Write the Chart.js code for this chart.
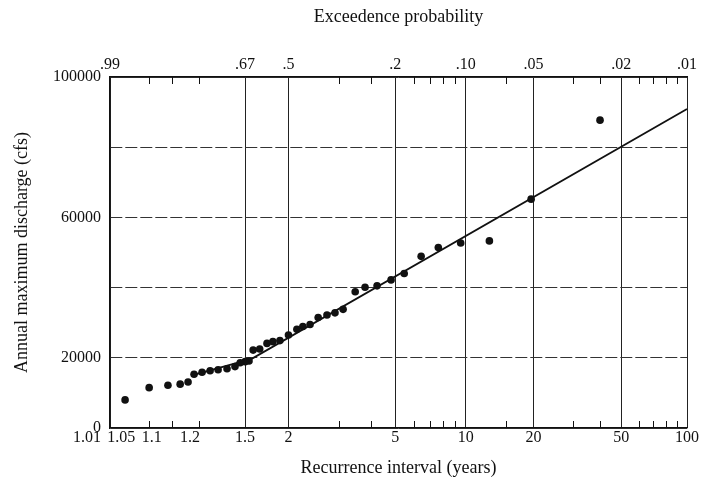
<!DOCTYPE html>
<html>
<head>
<meta charset="utf-8">
<title>Annual maximum discharge</title>
<script src="https://cdn.jsdelivr.net/npm/chart.js@4.4.1/dist/chart.umd.min.js"></script>
<style>
  html, body { margin: 0; padding: 0; background: #fff; }
  #wrap { width: 703px; height: 485px; }
</style>
</head>
<body>
<div id="wrap"><canvas id="chart-flood"></canvas></div>
<script>
// ===== Data =====
// ranked annual peaks: recurrence interval (years) and discharge (cfs)
const recurrenceYears = [40, 19.5, 12.7, 9.5, 7.6, 6.42, 5.45, 4.81, 4.22, 3.78,
  3.46, 3.11, 2.90, 2.71, 2.52, 2.36, 2.23, 2.13, 2.0, 1.88,
  1.79, 1.72, 1.64, 1.574, 1.535, 1.50, 1.458, 1.417, 1.359, 1.301,
  1.255, 1.214, 1.178, 1.154, 1.126, 1.090, 1.050, 1.020];
const peakDischarge = [87700, 65200, 53300, 52700, 51400, 48900, 44000, 42200, 40500, 40100,
  38800, 33800, 32800, 32200, 31500, 29500, 28900, 28100, 26500, 24900,
  24600, 24100, 22500, 22200, 19100, 18900, 18600, 17500, 16900, 16600,
  16300, 15900, 15300, 13100, 12500, 12200, 11500, 8000];

// fitted line, two straight pieces
const fitYears = [1.18, 1.56, 100];
const fitDischarge = [15200, 19700, 90900];

// axis labelling
const gridYears = [1.01, 1.5, 2, 5, 10, 20, 50, 100];
const exceedLabels = ['.99', '.67', '.5', '.2', '.10', '.05', '.02', '.01'];
const intervalYears = [1.01, 1.05, 1.1, 1.2, 1.5, 2, 5, 10, 20, 50, 100];
const intervalLabels = ['1.01', '1.05', '1.1', '1.2', '1.5', '2', '5', '10', '20', '50', '100'];
const minorYears = [1.05, 1.1, 1.2, 3, 4, 6, 7, 8, 9, 15, 30, 40, 60, 70, 80, 90];
const dischargeTicks = [0, 20000, 40000, 60000, 80000, 100000];
const dischargeLabels = ['0', '20000', '', '60000', '', '100000'];

// Gumbel reduced variate -> x axis is an extreme value probability scale
const gumbel = T => -Math.log(-Math.log(1 - 1 / T));

// crowded labels near 1.01 sit left of their ticks, like the printed chart
const labelNudge = { '1.01': -23, '1.05': -28, '1.1': -20, '1.2': -9 };

const SERIF = "'Liberation Serif', 'DejaVu Serif', serif";
Chart.defaults.font.family = SERIF;
Chart.defaults.color = '#111';

// ===== Inner tick marks + bottom labels =====
const recurrenceAxis = {
  id: 'recurrenceAxis',
  afterDraw(chart) {
    const { ctx, chartArea } = chart;
    const xs = chart.scales.x;
    ctx.save();
    ctx.strokeStyle = '#111';
    ctx.lineWidth = 1;
    ctx.beginPath();
    minorYears.forEach(t => {
      const px = Math.round(xs.getPixelForValue(gumbel(t))) + 0.5;
      ctx.moveTo(px, chartArea.bottom);
      ctx.lineTo(px, chartArea.bottom - 7);
      ctx.moveTo(px, chartArea.top);
      ctx.lineTo(px, chartArea.top + 7);
    });
    ctx.stroke();

    ctx.font = '16px ' + SERIF;
    ctx.fillStyle = '#111';
    ctx.textAlign = 'center';
    ctx.textBaseline = 'middle';
    intervalYears.forEach((t, i) => {
      const label = intervalLabels[i];
      const px = xs.getPixelForValue(gumbel(t)) + (labelNudge[label] || 0);
      ctx.fillText(label, px, chartArea.bottom + 10);
    });
    ctx.restore();
  }
};

const setGridTicks = s => { s.ticks = gridYears.map(t => ({ value: gumbel(t) })); };

new Chart(document.getElementById('chart-flood'), {
  type: 'scatter',
  data: {
    datasets: [
      {
        data: recurrenceYears.map((t, i) => ({ x: gumbel(t), y: peakDischarge[i] })),
        backgroundColor: '#111',
        borderWidth: 0,
        pointRadius: 3.8
      },
      {
        data: fitYears.map((t, i) => ({ x: gumbel(t), y: fitDischarge[i] })),
        showLine: true,
        borderColor: '#111',
        borderWidth: 1.8,
        pointRadius: 0
      }
    ]
  },
  options: {
    responsive: true,
    maintainAspectRatio: false,
    animation: false,
    layout: { padding: { left: 0, right: 16, top: 0, bottom: 0 } },
    plugins: { legend: { display: false }, tooltip: { enabled: false } },
    scales: {
      x: {
        type: 'linear',
        position: 'bottom',
        min: gumbel(1.01),
        max: gumbel(100),
        afterBuildTicks: setGridTicks,
        afterFit: s => { s.height = 57; },
        ticks: { display: false },
        grid: { color: '#222', lineWidth: 1, drawTicks: false },
        border: { color: '#111', width: 1.3 },
        title: {
          display: true,
          text: 'Recurrence interval (years)',
          font: { size: 18 },
          padding: { top: 0, bottom: 6 }
        }
      },
      x2: {
        type: 'linear',
        position: 'top',
        min: gumbel(1.01),
        max: gumbel(100),
        afterBuildTicks: setGridTicks,
        afterFit: s => { s.height = 77; },
        ticks: {
          autoSkip: false,
          maxRotation: 0,
          padding: 3,
          font: { size: 16 },
          callback: (v, i) => exceedLabels[i]
        },
        grid: { drawOnChartArea: false, drawTicks: false },
        border: { color: '#111', width: 1.3 },
        title: {
          display: true,
          text: 'Exceedence probability',
          font: { size: 18 },
          padding: { top: 6, bottom: 0 }
        }
      },
      y: {
        min: 0,
        max: 100000,
        afterBuildTicks: s => { s.ticks = dischargeTicks.map(v => ({ value: v })); },
        afterFit: s => { s.width = 110; },
        ticks: {
          autoSkip: false,
          padding: 9,
          font: { size: 16 },
          callback: (v, i) => dischargeLabels[i]
        },
        grid: { color: '#333', lineWidth: 1, drawTicks: false },
        border: {
          color: '#111',
          width: 1.3,
          dash: c => (c.tick && (c.tick.value === 0 || c.tick.value === 100000)) ? [] : [12, 3]
        },
        title: {
          display: true,
          text: 'Annual maximum discharge (cfs)',
          font: { size: 18 },
          padding: { top: 11, bottom: 0 }
        }
      }
    }
  },
  plugins: [recurrenceAxis]
});
</script>
</body>
</html>
